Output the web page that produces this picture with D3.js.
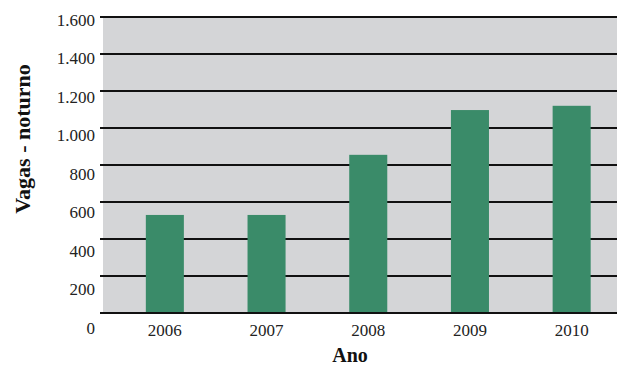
<!DOCTYPE html>
<html>
<head>
<meta charset="utf-8">
<script src="https://cdn.jsdelivr.net/npm/d3@7"></script>
<style>
  html, body { margin: 0; padding: 0; background: #fff; }
  svg { display: block; }
</style>
</head>
<body>
<svg id="chart" width="617" height="367"></svg>
<script>
// Evening-shift places per year
const years = ["2006", "2007", "2008", "2009", "2010"];
const vagas = [530, 530, 855, 1097, 1120];
const tickValues = [0, 200, 400, 600, 800, 1000, 1200, 1400, 1600];
const tickLabels = ["0", "200", "400", "600", "800", "1.000", "1.200", "1.400", "1.600"];

const svg = d3.select("#chart");
const plot = { left: 103, right: 617, top: 17, bottom: 313 };

const y = d3.scaleLinear().domain([0, 1600]).range([plot.bottom, plot.top]);
// tick text sits on its own, slightly wider, vertical scale
const yLabel = d3.scaleLinear().domain([0, 1600]).range([328, 20]);
const x = d3.scaleBand().domain(years).range([114, 622.5])
  .paddingInner(0.626).paddingOuter(0.313);

const serif = "'Liberation Serif', 'DejaVu Serif', serif";

// plot background
svg.append("rect")
  .attr("x", plot.left).attr("y", plot.top)
  .attr("width", plot.right - plot.left).attr("height", plot.bottom - plot.top)
  .attr("fill", "#d4d5d7");

// gridlines
svg.append("g").selectAll("line").data(tickValues).join("line")
  .attr("x1", 100).attr("x2", plot.right)
  .attr("y1", d => y(d)).attr("y2", d => y(d))
  .attr("stroke", "#111").attr("stroke-width", 2);

// bars
svg.append("g").selectAll("rect").data(years).join("rect")
  .attr("x", d => x(d))
  .attr("width", x.bandwidth())
  .attr("y", (d, i) => y(vagas[i]))
  .attr("height", (d, i) => y(0) - y(vagas[i]) - 1)
  .attr("fill", "#3a8b69");

// y tick labels
svg.append("g").selectAll("text").data(tickValues).join("text")
  .attr("x", 95)
  .attr("y", d => yLabel(d))
  .attr("dy", "0.35em")
  .attr("text-anchor", "end")
  .attr("font-family", serif)
  .attr("font-size", 17)
  .attr("fill", "#222")
  .text((d, i) => tickLabels[i]);

// x tick labels
svg.append("g").selectAll("text").data(years).join("text")
  .attr("x", d => x(d) + x.bandwidth() / 2)
  .attr("y", 336)
  .attr("text-anchor", "middle")
  .attr("font-family", serif)
  .attr("font-size", 17)
  .attr("fill", "#222")
  .text(d => d);

// axis titles
svg.append("text")
  .attr("transform", "translate(30,139) rotate(-90)")
  .attr("text-anchor", "middle")
  .attr("font-family", serif)
  .attr("font-weight", "bold")
  .attr("font-size", 22)
  .attr("fill", "#111")
  .text("Vagas - noturno");

svg.append("text")
  .attr("x", 350).attr("y", 362)
  .attr("text-anchor", "middle")
  .attr("font-family", serif)
  .attr("font-weight", "bold")
  .attr("font-size", 20)
  .attr("fill", "#111")
  .text("Ano");
</script>
</body>
</html>
